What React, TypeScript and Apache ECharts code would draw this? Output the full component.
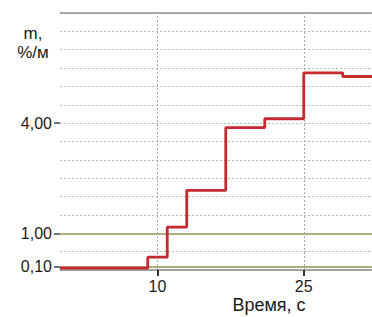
import React, { useEffect, useRef } from "react";
import * as echarts from "echarts";

const stepTimes = [0, 9, 11, 13, 17, 21, 25, 29, 32];
const stepValues = [0.05, 0.35, 1.17, 2.17, 3.88, 4.12, 5.37, 5.27, 5.27];
const yLabelValues = [0.1, 1, 4];
const xLabelValues = [10, 25];
const limitLines = [0.1, 1];

export default function App() {
  const ref = useRef<HTMLDivElement>(null);
  useEffect(() => {
    if (!ref.current) return;
    const chart = echarts.init(ref.current, null, { renderer: "svg" });
    const font = "'Liberation Sans', Arial, sans-serif";
    chart.setOption({
      animation: false,
      grid: { left: 60, right: 0, top: 13, bottom: 47 },
      xAxis: {
        type: "value",
        min: 0,
        max: 32,
        axisLine: { show: true, lineStyle: { color: "#8a8a8a", width: 1.5 } },
        axisTick: {
          show: true,
          customValues: xLabelValues,
          length: 6,
          lineStyle: { color: "#333", width: 2 },
        },
        axisLabel: {
          customValues: xLabelValues,
          color: "#1a1a1a",
          fontSize: 16,
          fontFamily: font,
          margin: 8,
        },
        splitLine: { show: false },
      },
      yAxis: [
        {
          type: "value",
          min: 0,
          max: 7,
          interval: 0.5,
          axisLine: { show: false },
          axisTick: {
            show: true,
            customValues: yLabelValues,
            length: 6,
            lineStyle: { color: "#444", width: 1.5 },
          },
          axisLabel: {
            customValues: yLabelValues,
            formatter: (v: number) => v.toFixed(2).replace(".", ","),
            color: "#1a1a1a",
            fontSize: 16,
            fontFamily: font,
            margin: 8,
          },
          splitLine: { show: false },
        },
        {
          type: "value",
          position: "left",
          min: 0,
          max: 7,
          interval: 0.5,
          axisLine: { show: false },
          axisTick: { show: false },
          axisLabel: { show: false },
          splitLine: {
            show: true,
            lineStyle: { color: "#b8b8b8", type: [2, 2], width: 1 },
          },
        },
      ],
      series: [
        {
          type: "line",
          step: "end",
          data: stepTimes.map((t, i) => [t, stepValues[i]]),
          showSymbol: false,
          lineStyle: { color: "#c42a2e", width: 2.8 },
          z: 5,
          markLine: {
            silent: true,
            symbol: "none",
            label: { show: false },
            data: [
              ...limitLines.map((v) => ({
                yAxis: v,
                lineStyle: { color: "#b0ad80", width: 2, type: "solid" },
              })),
              { yAxis: 7, lineStyle: { color: "#8f8f8f", width: 1.5, type: "solid" } },
              ...xLabelValues.map((v) => ({
                xAxis: v,
                lineStyle: { color: "#a8a8a8", width: 1, type: [2, 2] },
              })),
            ],
          },
        },
      ],
      graphic: [
        {
          type: "text",
          style: {
            text: "m,\n%/м",
            x: 33,
            y: 24,
            textAlign: "center",
            font: `17px ${font}`,
            lineHeight: 19,
            fill: "#1a1a1a",
          },
        },
        {
          type: "text",
          style: {
            text: "Время, с",
            x: 269,
            y: 296,
            textAlign: "center",
            font: `18px ${font}`,
            fill: "#1a1a1a",
          },
        },
      ],
    });
    return () => chart.dispose();
  }, []);
  return <div ref={ref} style={{ width: 372, height: 317, position: "absolute", left: 0, top: 0 }} />;
}
